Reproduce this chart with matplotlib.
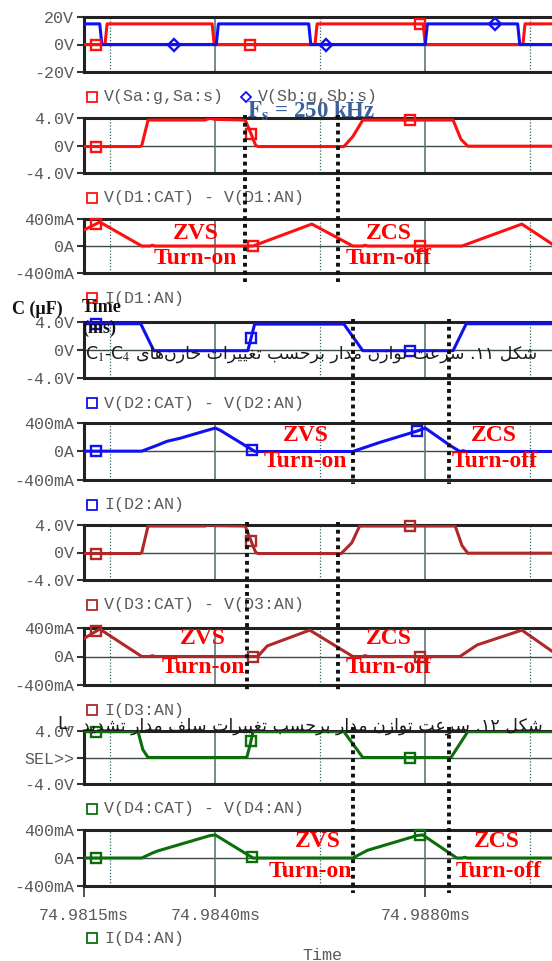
import numpy as np
import matplotlib.pyplot as plt
from matplotlib.lines import Line2D
from matplotlib.transforms import blended_transform_factory

# time axis: microseconds after 74.9815 ms
t_end = 8.914

# switch gate drives (V)
sa_t = [0, 0.40, 0.44, 2.44, 2.48, 4.40, 4.44, 6.46, 6.50, 8.36, 8.40, t_end]
sa_v = [0, 0, 15, 15, 0, 0, 15, 15, 0, 0, 15, 15]
sb_t = [0, 0.30, 0.34, 2.52, 2.56, 4.28, 4.32, 6.50, 6.54, 8.26, 8.30, t_end]
sb_v = [15, 15, 0, 0, 15, 15, 0, 0, 15, 15, 0, 0]

# diode voltages (V)
vd1_t = [0, 1.07, 1.10, 1.22, 2.30, 2.40, 2.50, 3.07, 3.15, 3.27, 3.32, 4.95, 5.12, 5.31, 7.03, 7.18, 7.31, t_end]
vd1_v = [-0.15, -0.15, 0.0, 3.7, 3.7, 3.95, 3.8, 3.7, 2.3, 0.0, -0.15, -0.15, 1.3, 3.7, 3.7, 0.9, -0.1, -0.1]
vd2_t = [0, 1.08, 1.33, 3.12, 3.25, 4.95, 5.31, 7.03, 7.28, t_end]
vd2_v = [3.75, 3.75, -0.1, -0.1, 3.7, 3.7, -0.1, -0.1, 3.75, 3.75]
vd3_t = [0, 1.07, 1.10, 1.22, 2.30, 2.40, 2.50, 3.07, 3.15, 3.27, 3.32, 4.90, 5.10, 5.25, 7.07, 7.20, 7.31, t_end]
vd3_v = [-0.15, -0.15, 0.0, 3.85, 3.85, 4.0, 3.9, 3.85, 2.3, 0.0, -0.15, -0.15, 1.4, 3.85, 3.85, 1.0, -0.1, -0.1]
vd4_t = [0, 1.03, 1.12, 1.22, 3.10, 3.16, 3.22, 4.95, 5.31, 6.99, 7.31, t_end]
vd4_v = [3.9, 3.9, 1.2, 0.0, 0.0, 1.8, 3.9, 3.9, 0.0, 0.0, 3.9, 3.9]

# diode currents (mA)
id1_t = [0, 0.30, 1.10, 1.26, 1.30, 1.35, 3.22, 4.34, 5.12, 5.31, 5.35, 5.41, 7.20, 8.34, t_end]
id1_v = [237, 355, 0, 0, 12, 0, 0, 325, 0, 0, 12, 0, 0, 325, 30]
id2_t = [0, 1.10, 1.39, 1.58, 1.83, 2.36, 2.50, 2.59, 3.16, 3.26, 5.12, 5.64, 6.34, 6.50, 6.97, 7.16, 7.22, 7.28, t_end]
id2_v = [5, 5, 86, 143, 186, 300, 329, 300, 43, 0, 0, 129, 286, 329, 86, 0, 10, 0, 0]
id3_t = [0, 0.30, 1.10, 1.26, 1.30, 1.35, 3.31, 3.49, 4.30, 5.12, 5.31, 5.35, 5.41, 7.16, 7.49, 8.34, t_end]
id3_v = [252, 385, 0, 0, 12, 0, 0, 148, 370, 0, 0, 12, 0, 0, 163, 370, 74]
id4_t = [0, 1.10, 1.30, 1.40, 2.40, 2.50, 3.22, 5.12, 5.40, 6.34, 6.45, 7.10, 7.20, 7.25, 7.30, t_end]
id4_v = [0, 0, 70, 100, 320, 330, 0, 0, 110, 320, 330, 0, 0, 10, 0, 0]

sa_marks = [0.23, 3.16, 6.40]
sb_marks = [1.71, 4.61, 7.83]

red, blue, brown, green = '#ff1010', '#1010f0', '#b02828', '#0b6e0b'

W, H = 552, 961
panel_top = [17, 118, 219, 322, 423, 525, 628, 731, 830]
panel_bot = [72, 173, 273, 378, 480, 580, 685, 784, 886]

volt_ticks = ([-4, 0, 4], ['-4.0V', '0V', '4.0V'])
amp_ticks = ([-400, 0, 400], ['-400mA', '0A', '400mA'])

panels = [
    dict(ylim=20, ticks=([-20, 0, 20], ['-20V', '0V', '20V']),
         series=[(sa_t, sa_v, red, 's', sa_marks), (sb_t, sb_v, blue, 'D', sb_marks)],
         legend=[('V(Sa:g,Sa:s)', red, 's', 92), ('V(Sb:g,Sb:s)', blue, 'D', 246)]),
    dict(ylim=4, ticks=volt_ticks, series=[(vd1_t, vd1_v, red, 's', [0.23, 3.18, 6.21])],
         legend=[('V(D1:CAT) - V(D1:AN)', red, 's', 92)]),
    dict(ylim=400, ticks=amp_ticks, series=[(id1_t, id1_v, red, 's', [0.23, 3.22, 6.40])],
         legend=[('I(D1:AN)', red, 's', 92)]),
    dict(ylim=4, ticks=volt_ticks, series=[(vd2_t, vd2_v, blue, 's', [0.23, 3.18, 6.21])],
         legend=[('V(D2:CAT) - V(D2:AN)', blue, 's', 92)]),
    dict(ylim=400, ticks=amp_ticks, series=[(id2_t, id2_v, blue, 's', [0.23, 3.20, 6.34])],
         legend=[('I(D2:AN)', blue, 's', 92)]),
    dict(ylim=4, ticks=volt_ticks, series=[(vd3_t, vd3_v, brown, 's', [0.23, 3.18, 6.21])],
         legend=[('V(D3:CAT) - V(D3:AN)', brown, 's', 92)]),
    dict(ylim=400, ticks=amp_ticks, series=[(id3_t, id3_v, brown, 's', [0.23, 3.22, 6.40])],
         legend=[('I(D3:AN)', brown, 's', 92)]),
    dict(ylim=4, ticks=([-4, 0, 4], ['-4.0V', 'SEL>>', '4.0V']),
         series=[(vd4_t, vd4_v, green, 's', [0.23, 3.18, 6.20])],
         legend=[('V(D4:CAT) - V(D4:AN)', green, 's', 92)]),
    dict(ylim=400, ticks=amp_ticks, series=[(id4_t, id4_v, green, 's', [0.23, 3.20, 6.40])],
         legend=[('I(D4:AN)', green, 's', 92)]),
]

# ZVS / ZCS notes: panel, ZVS x, ZCS x, upper y, lower y, Turn-off x
notes = [
    (2, 2.13, 5.81, 190, -190, 5.81),
    (4, 4.23, 7.81, 229, -143, 7.83),
    (6, 2.27, 5.81, 252, -148, 5.81),
    (8, 4.45, 7.87, 229, -186, 7.89),
]
notes_on_x = [2.13, 4.21, 2.27, 4.32]

# black dotted markers across panel pairs: (panel, times, top px, bottom px)
cursor_groups = [
    (1, [3.06, 4.84], 115, 282),
    (3, [5.12, 6.95], 319, 484),
    (5, [3.10, 4.84], 522, 690),
    (7, [5.12, 6.95], 727, 893),
]

mono = 'Liberation Mono'
gray = '#5a5a5a'


def fy(py):
    return 1 - py / H


plt.rcParams['mathtext.fontset'] = 'stix'
fig = plt.figure(figsize=(W / 100, H / 100), dpi=100)
axes = []
for i, p in enumerate(panels):
    top, bot = panel_top[i], panel_bot[i]
    ax = fig.add_axes([84 / W, fy(bot), (W - 84) / W, (bot - top) / H])
    axes.append(ax)
    ax.set_xlim(0, t_end)
    ax.set_ylim(-p['ylim'], p['ylim'])

    ax.axhline(0, color='#3c4a4a', lw=1.0, zorder=1)
    for gx in [2.5, 6.5]:
        ax.axvline(gx, color='#5b7878', lw=1.2, zorder=1)
    for gx in [0.5, 4.5, 8.5]:
        ax.axvline(gx, color='#2f6464', lw=0.9, ls=(0, (1, 1.5)), zorder=1)

    for t, v, c, m, mt in p['series']:
        ax.plot(t, v, color=c, lw=2.2, zorder=3, solid_joinstyle='round')
        ax.plot(mt, np.interp(mt, t, v), ls='none', marker=m, ms=7.5 if m == 's' else 6.5,
                mfc='none', mec=c, mew=1.7, zorder=4, clip_on=False)

    for s in ['top', 'bottom', 'left']:
        ax.spines[s].set_linewidth(2.2)
        ax.spines[s].set_color('#222222')
    ax.spines['right'].set_visible(False)

    ax.set_yticks(p['ticks'][0])
    ax.set_yticklabels(p['ticks'][1], fontfamily=mono, color=gray, fontsize=12)
    ax.tick_params(axis='y', length=5, width=1.5, color='#333333', pad=2)
    if i < len(panels) - 1:
        ax.set_xticks([])
    else:
        ax.set_xticks([0, 2.5, 6.5])
        ax.set_xticklabels(['74.9815ms', '74.9840ms', '74.9880ms'],
                           fontfamily=mono, color=gray, fontsize=12)
        ax.tick_params(axis='x', length=8, width=1.2, color='#333333', pad=8)

    ly = bot + 25 if i < len(panels) - 1 else 938
    for label, c, m, lx in p['legend']:
        fig.add_artist(Line2D([lx / W], [fy(ly)], transform=fig.transFigure, ls='none',
                              marker=m, ms=6.5 if m == 's' else 5.5, mfc='none', mec=c, mew=1.3))
        fig.text((lx + 12) / W, fy(ly), label, fontfamily=mono, color=gray, fontsize=12,
                 ha='left', va='center')

fig.text(322 / W, fy(955), 'Time', fontfamily=mono, color=gray, fontsize=12, ha='center', va='center')

# switching frequency note
axes[1].text(3.10, 5.0, r'$\mathbf{F_s}$' + ' = 250 kHz', fontfamily='Liberation Serif',
             fontweight='bold', fontsize=16.5, color='#3d5f9a', ha='left', va='center',
             clip_on=False, zorder=6)

serif = dict(fontfamily='Liberation Serif', fontweight='bold', fontsize=17, color='#ff0000',
             ha='center', va='center', zorder=6, clip_on=False)
for (pi, zvs_x, zcs_x, up, low, off_x), on_x in zip(notes, notes_on_x):
    ax = axes[pi]
    ax.text(zvs_x, up, 'ZVS', **serif)
    ax.text(on_x, low, 'Turn-on', **serif)
    ax.text(zcs_x, up, 'ZCS', **serif)
    ax.text(off_x, low, 'Turn-off', **serif)

for pi, times, y0, y1 in cursor_groups:
    tr = blended_transform_factory(axes[pi].transData, fig.transFigure)
    for tx in times:
        fig.add_artist(Line2D([tx, tx], [fy(y0), fy(y1)], transform=tr, color='#111111',
                              lw=2.8, ls=(0, (1, 1.0)), zorder=7))

# caption fragments (Persian) drawn over the plot
forms = {
    '\u0627': (0xFE8D, 0xFE8E, None, None), '\u0628': (0xFE8F, 0xFE90, 0xFE91, 0xFE92),
    '\u062A': (0xFE95, 0xFE96, 0xFE97, 0xFE98), '\u062D': (0xFEA1, 0xFEA2, 0xFEA3, 0xFEA4),
    '\u062E': (0xFEA5, 0xFEA6, 0xFEA7, 0xFEA8), '\u062F': (0xFEA9, 0xFEAA, None, None),
    '\u0631': (0xFEAD, 0xFEAE, None, None), '\u0632': (0xFEAF, 0xFEB0, None, None),
    '\u0633': (0xFEB1, 0xFEB2, 0xFEB3, 0xFEB4), '\u0634': (0xFEB5, 0xFEB6, 0xFEB7, 0xFEB8),
    '\u0639': (0xFEC9, 0xFECA, 0xFECB, 0xFECC), '\u063A': (0xFECD, 0xFECE, 0xFECF, 0xFED0),
    '\u0641': (0xFED1, 0xFED2, 0xFED3, 0xFED4), '\u0644': (0xFEDD, 0xFEDE, 0xFEDF, 0xFEE0),
    '\u0645': (0xFEE1, 0xFEE2, 0xFEE3, 0xFEE4), '\u0646': (0xFEE5, 0xFEE6, 0xFEE7, 0xFEE8),
    '\u0647': (0xFEE9, 0xFEEA, 0xFEEB, 0xFEEC), '\u0648': (0xFEED, 0xFEEE, None, None),
    '\u06A9': (0xFB8E, 0xFB8F, 0xFB90, 0xFB91), '\u06CC': (0xFBFC, 0xFBFD, 0xFBFE, 0xFBFF),
}


def shape_word(word):
    out = []
    for k, c in enumerate(word):
        if c not in forms:
            if c != '\u200c':
                out.append(c)
            continue
        prev = word[k - 1] if k > 0 else ''
        nxt = word[k + 1] if k + 1 < len(word) else ''
        join_prev = prev in forms and forms[prev][2] is not None
        join_next = nxt in forms and forms[c][2] is not None
        iso, fin, ini, med = forms[c]
        if join_prev and join_next:
            g = med
        elif join_prev:
            g = fin
        elif join_next:
            g = ini
        else:
            g = iso
        out.append(chr(g))
    return ''.join(reversed(out))


def visual_line(text):
    words = []
    for w in reversed(text.split(' ')):
        if any(c in forms for c in w):
            words.append(shape_word(w))
        elif w.endswith('.'):
            words.append('.' + w[:-1])
        else:
            words.append(w)
    return ' '.join(words)


caption_11 = 'شکل ۱۱. سرعت توازن مدار برحسب تغییرات خازن\u200cهای'
caption_12 = 'شکل ۱۲. سرعت توازن مدار برحسب تغییرات سلف مدار تشدید'
fig.text(537 / W, fy(354), visual_line(caption_11), fontfamily='DejaVu Sans', fontsize=12.5,
         color='#1a1a1a', ha='right', va='center', zorder=8)
fig.text(85 / W, fy(354), r'C$_1$-C$_4$', fontfamily='DejaVu Sans', fontsize=12.5,
         color='#1a1a1a', ha='left', va='center', zorder=8)
fig.text(543 / W, fy(726), visual_line(caption_12), fontfamily='DejaVu Sans', fontsize=12.5,
         color='#1a1a1a', ha='right', va='center', zorder=8)
fig.text(57 / W, fy(724), r'L$_r$', fontfamily='DejaVu Sans', fontsize=12.5,
         color='#1a1a1a', ha='left', va='center', zorder=8)

bold_serif = dict(fontfamily='Liberation Serif', fontweight='bold', fontsize=13, color='#111111',
                  ha='left', va='center', zorder=8)
fig.text(12 / W, fy(309), 'C (\u03bcF)', **bold_serif)
fig.text(82 / W, fy(307), 'Time', **bold_serif)
fig.text(82 / W, fy(328), '(ms)', **bold_serif)

fig.savefig('out.png', dpi=100)
